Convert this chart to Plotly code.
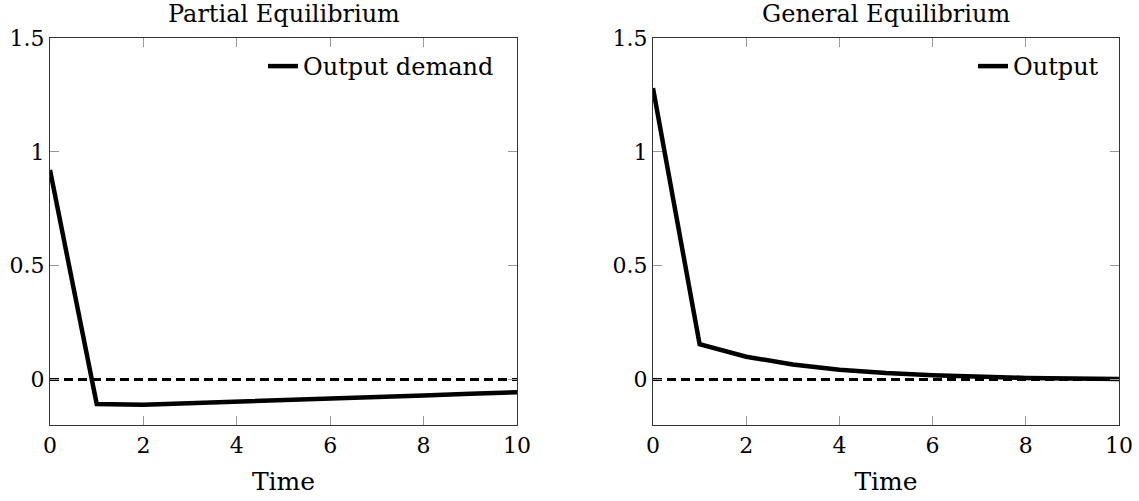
import plotly.graph_objects as go

time = [0, 1, 2, 3, 4, 5, 6, 7, 8, 9, 10]
output_demand = [0.92, -0.108, -0.111, -0.105, -0.098, -0.091, -0.084, -0.077, -0.070, -0.063, -0.056]
output_ge = [1.28, 0.155, 0.100, 0.066, 0.043, 0.028, 0.018, 0.011, 0.007, 0.004, 0.002]
zero_x = [0, 10]
zero_y = [0, 0]
titles = ["Partial Equilibrium", "General Equilibrium"]
names = ["Output demand", "Output"]
xticks = [0, 2, 4, 6, 8, 10]
yticks = [0, 0.5, 1, 1.5]
yticklabels = ["0", "0.5", "1", "1.5"]

FONT = "DejaVu Serif"
W, H = 1139, 501
ML, MR, MT, MB = 50, 20, 38, 76
PW = W - ML - MR
PH = H - MT - MB

def px_x(p):
    return (p - ML) / PW

fig = go.Figure()
doms_x = [(0.0, px_x(517)), (px_x(653), 1.0)]

for i, (ys, nm) in enumerate([(output_demand, names[0]), (output_ge, names[1])]):
    xa = "x" if i == 0 else "x2"
    ya = "y" if i == 0 else "y2"
    lg = "legend" if i == 0 else "legend2"
    fig.add_trace(go.Scatter(x=time, y=ys, mode="lines", name=nm, xaxis=xa, yaxis=ya,
                             line=dict(color="black", width=4.5), legend=lg))
    fig.add_trace(go.Scatter(x=zero_x, y=zero_y, mode="lines", xaxis=xa, yaxis=ya,
                             line=dict(color="black", width=3, dash="9px,5px"),
                             showlegend=False, hoverinfo="skip"))

axis_common = dict(showgrid=False, zeroline=False, showline=True, linecolor="#333",
                   linewidth=1.2, mirror="ticks", ticks="inside", ticklen=9,
                   tickcolor="#999", tickwidth=1, automargin=False,
                   tickfont=dict(family=FONT, size=22, color="black"))

layout = dict(width=W, height=H, margin=dict(l=ML, r=MR, t=MT, b=MB, autoexpand=False),
              plot_bgcolor="white", paper_bgcolor="white",
              font=dict(family=FONT, color="black"))
for i in range(2):
    sx = "" if i == 0 else "2"
    layout["xaxis" + sx] = dict(axis_common, domain=doms_x[i], range=[0, 10],
                                tickvals=xticks, anchor="y" + sx,
                                title=dict(text="Time", font=dict(family=FONT, size=25), standoff=15))
    layout["yaxis" + sx] = dict(axis_common, domain=[0, 1], range=[-0.2, 1.5],
                                tickvals=yticks, ticktext=yticklabels, anchor="x" + sx)
fig.update_layout(**layout)

leg_common = dict(xanchor="right", yanchor="top", bgcolor="rgba(0,0,0,0)",
                  font=dict(family=FONT, size=24), tracegroupgap=0, borderwidth=0)
fig.update_layout(
    legend=dict(leg_common, x=px_x(499), y=1 - 6 / PH),
    legend2=dict(leg_common, x=px_x(1104), y=1 - 6 / PH),
)

for i in range(2):
    fig.add_annotation(text=titles[i], xref="paper", yref="paper",
                       x=(doms_x[i][0] + doms_x[i][1]) / 2, y=1, xanchor="center", yanchor="middle",
                       yshift=24, showarrow=False, font=dict(family=FONT, size=24, color="black"))

fig.write_html("out.html")
